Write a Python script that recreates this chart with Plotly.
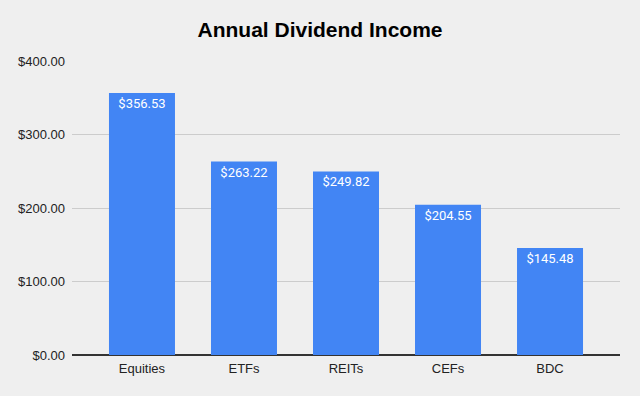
import plotly.graph_objects as go

categories = ["Equities", "ETFs", "REITs", "CEFs", "BDC"]
values = [356.53, 263.22, 249.82, 204.55, 145.48]
tick_vals = [0, 100, 200, 300, 400]
tick_text = ["$0.00", "$100.00", "$200.00", "$300.00", "$400.00"]

fig = go.Figure(go.Bar(
    x=categories, y=values,
    marker=dict(color="#4285f4", line=dict(width=0)),
    width=0.647,
    text=[f"${v:.2f}" for v in values],
    textposition="inside", insidetextanchor="end",
    textfont=dict(color="white", size=13, family="Roboto, Liberation Sans, sans-serif"),
    textangle=0,
    cliponaxis=False,
))

fig.update_layout(
    width=640, height=396,
    paper_bgcolor="#efefef", plot_bgcolor="#efefef",
    margin=dict(l=72, r=20, t=61, b=41),
    title=dict(text="<b>Annual Dividend Income</b>", x=0.5, xanchor="center", y=0.924, yanchor="middle",
               font=dict(family="Liberation Sans, Arial, sans-serif", size=21, color="#000000")),
    font=dict(family="Liberation Sans, Arial, sans-serif", size=13, color="#222222"),
    showlegend=False,
)
fig.update_xaxes(range=[-0.686, 4.686], showgrid=False, ticks="", showline=False, zeroline=False,
                 ticklabelstandoff=4, tickfont=dict(size=13, color="#222222"))
fig.update_yaxes(range=[0, 400], tickvals=tick_vals, ticktext=tick_text, showgrid=True,
                 gridcolor="#cccccc", gridwidth=1, zeroline=True, zerolinecolor="#333333", zerolinewidth=1.5,
                 showline=False, ticks="", ticklabelstandoff=6,
                 tickfont=dict(size=13, color="#222222"))
fig.write_html("out.html", config={"displayModeBar": False},
               post_script="document.body.style.margin='0';document.body.style.background='#efefef';")
